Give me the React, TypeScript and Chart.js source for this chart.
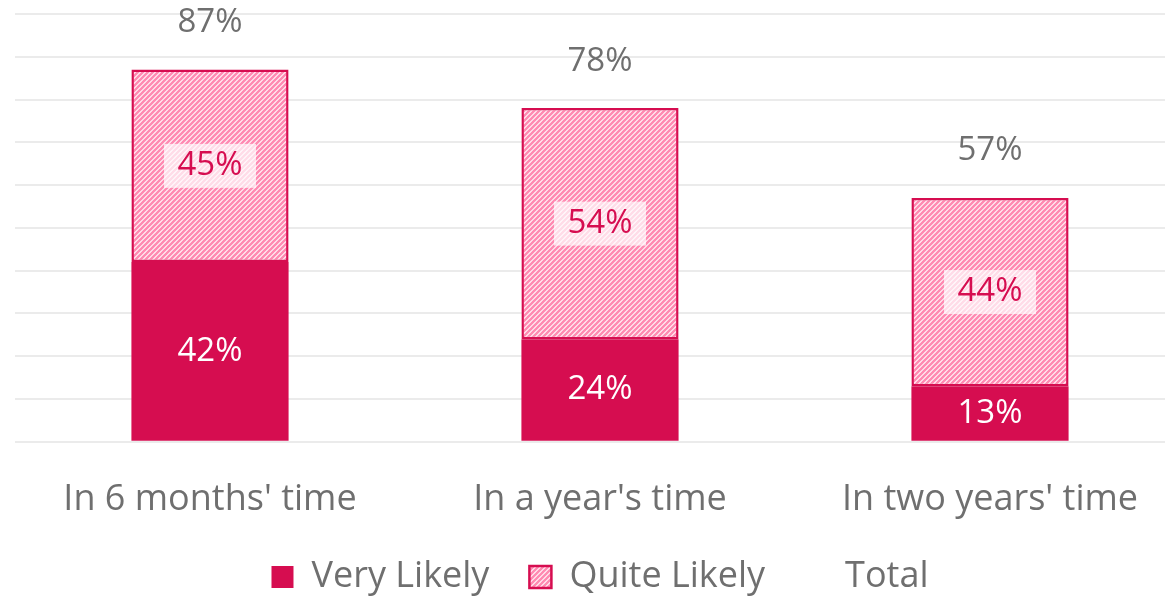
import React, { useEffect, useRef } from "react";
import { Chart, registerables } from "chart.js";

Chart.register(...registerables);

const categories = ["In 6 months' time", "In a year's time", "In two years' time"];
const veryLikely = [42, 24, 13];
const quiteLikely = [45, 54, 44];
const totals = [87, 78, 57];
const seriesNames = ["Very Likely", "Quite Likely", "Total"];

const CRIMSON = "#d60d50";
const GREY = "#6f6f6f";
const FONT = "'Open Sans', sans-serif";

function makePattern(): CanvasPattern | string {
  const t = document.createElement("canvas");
  const s = 5;
  t.width = s;
  t.height = s;
  const c = t.getContext("2d");
  if (!c) return "#ffb0ca";
  c.fillStyle = "#ffffff";
  c.fillRect(0, 0, s, s);
  c.strokeStyle = "#ff8ab2";
  c.lineWidth = 2.6;
  c.beginPath();
  c.moveTo(-1, s + 1);
  c.lineTo(s + 1, -1);
  c.moveTo(-1, 1);
  c.lineTo(1, -1);
  c.moveTo(s - 1, s + 1);
  c.lineTo(s + 1, s - 1);
  c.stroke();
  const p = c.createPattern(t, "repeat");
  return p || "#ffb0ca";
}

const labelPlugin = {
  id: "valueLabels",
  afterDatasetsDraw(chart: any) {
    const ctx = chart.ctx;
    ctx.save();
    ctx.textAlign = "center";
    ctx.textBaseline = "middle";
    ctx.font = `33px ${FONT}`;
    chart.data.datasets.forEach((ds: any, di: number) => {
      const meta = chart.getDatasetMeta(di);
      meta.data.forEach((el: any, i: number) => {
        const v = ds.data[i];
        const txt = `${v}%`;
        if (di === 0) {
          const cy = (el.y + el.base) / 2;
          ctx.fillStyle = "#ffffff";
          ctx.fillText(txt, el.x, cy);
        } else if (di === 1) {
          const cy = (el.y + el.base) / 2;
          ctx.fillStyle = "rgba(255,255,255,0.7)";
          ctx.fillRect(el.x - 46, cy - 22, 92, 44);
          ctx.fillStyle = CRIMSON;
          ctx.fillText(txt, el.x, cy);
        } else {
          ctx.fillStyle = GREY;
          ctx.fillText(txt, el.x, el.y - 47);
        }
      });
    });
    ctx.restore();
  },
};

const legendShift = {
  id: "legendShift",
  afterLayout(chart: any) {
    const lg = chart.legend;
    if (lg) {
      lg.top -= 30;
      lg.bottom -= 30;
    }
  },
};

export default function App() {
  const ref = useRef<HTMLCanvasElement | null>(null);
  useEffect(() => {
    if (!ref.current) return;
    const pattern = makePattern();
    const chart = new Chart(ref.current, {
      type: "bar",
      data: {
        labels: categories,
        datasets: [
          {
            label: seriesNames[0],
            data: veryLikely,
            backgroundColor: CRIMSON,
            borderWidth: 0,
            stack: "s",
          },
          {
            label: seriesNames[1],
            data: quiteLikely,
            backgroundColor: pattern as any,
            borderColor: CRIMSON,
            borderWidth: 2.5,
            borderSkipped: false,
            stack: "s",
          },
          {
            type: "line",
            label: seriesNames[2],
            data: totals,
            showLine: false,
            pointRadius: 0,
            backgroundColor: "transparent",
            borderColor: "transparent",
            borderWidth: 0,
            stack: "t",
          } as any,
        ],
      },
      options: {
        responsive: false,
        animation: false,
        events: [],
        datasets: { bar: { barPercentage: 0.403, categoryPercentage: 1 } },
        layout: { padding: { left: 15, right: 15, top: 14, bottom: -39 } },
        plugins: {
          tooltip: { enabled: false },
          legend: {
            position: "bottom",
            labels: {
              boxWidth: 22,
              boxHeight: 22,
              padding: 40,
              color: GREY,
              font: { family: FONT, size: 36 },
            },
          },
        },
        scales: {
          x: {
            stacked: true,
            grid: { display: false },
            border: { display: false },
            ticks: { color: GREY, font: { family: FONT, size: 36 }, padding: 28 },
          },
          y: {
            stacked: true,
            min: 0,
            max: 100,
            ticks: { display: false, stepSize: 10 },
            grid: { color: "#ebebeb", lineWidth: 2, drawTicks: false },
            border: { display: false },
          },
        },
      },
      plugins: [labelPlugin, legendShift],
    });
    return () => chart.destroy();
  }, []);
  return (
    <div style={{ position: "fixed", left: 0, top: 0, width: 1165, height: 596, overflow: "hidden", background: "#fff" }}>
      <canvas ref={ref} width={1200} height={596} style={{ display: "block" }} />
    </div>
  );
}
